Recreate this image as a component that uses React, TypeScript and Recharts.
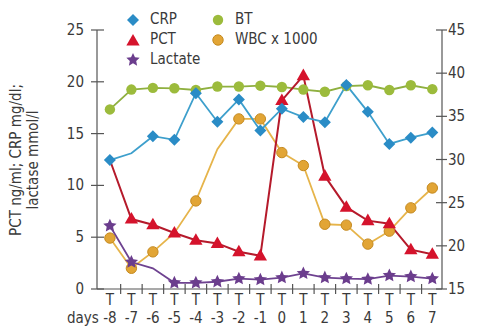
import React from 'react';
import { ComposedChart, Line, XAxis, YAxis } from 'recharts';

const days = [-8, -7, -6, -5, -4, -3, -2, -1, 0, 1, 2, 3, 4, 5, 6, 7];
const crp = [12.45, 13.1, 14.75, 14.4, 18.9, 16.15, 18.3, 15.3, 17.4, 16.6, 16.1, 19.7, 17.1, 14.0, 14.6, 15.1];
const pct = [12.45, 6.75, 6.2, 5.4, 4.7, 4.4, 3.6, 3.2, 18.2, 20.6, 10.9, 7.9, 6.6, 6.3, 3.8, 3.35];
const lactate = [6.1, 2.6, 2.0, 0.6, 0.6, 0.7, 1.0, 0.9, 1.1, 1.5, 1.1, 1.0, 0.95, 1.3, 1.2, 1.0];
const bt = [35.8, 38.1, 38.3, 38.25, 38.05, 38.45, 38.45, 38.55, 38.4, 38.1, 37.85, 38.5, 38.6, 38.05, 38.6, 38.15];
const wbc = [20.9, 17.4, 19.3, 21.5, 25.2, 31.2, 34.7, 34.7, 30.8, 29.3, 22.5, 22.4, 20.2, 21.7, 24.4, 26.7];
const leftTicks = [0, 5, 10, 15, 20, 25];
const rightTicks = [15, 20, 25, 30, 35, 40, 45];
// days drawn without a marker in the source
const crpNoMark = [-7];
const pctNoMark = [-8];
const lactateNoMark = [-6];
const wbcNoMark = [-5, -3];

const data = days.map((d, i) => ({
  day: d,
  crp: crp[i],
  pct: pct[i],
  lactate: lactate[i],
  bt: bt[i],
  wbc: wbc[i],
}));

const boundaryTicks = [...days.slice(0, -1).map((d) => d + 0.5), ...days];

const FONT = "'DejaVu Sans', sans-serif";
const STRETCH = 'condensed';
const FS = 15;
const TEXT = '#3a3a3a';
const AXIS = '#555';

const C = {
  crp: '#2a8cc6', crpLine: '#3d9fcc',
  pct: '#d5132c', pctLine: '#b51a2b',
  lac: '#6b3d8d', lacLine: '#6e4290',
  bt: '#9cbb3c', btLine: '#8fb040',
  wbc: '#e2a535', wbcLine: '#e6b44a',
};

const diamond = (cx: number, cy: number, fill: string, r = 6) => (
  <path d={`M${cx},${cy - r}L${cx + r},${cy}L${cx},${cy + r}L${cx - r},${cy}Z`} fill={fill} />
);
const triangle = (cx: number, cy: number, fill: string, r = 7) => (
  <path d={`M${cx},${cy - r}L${cx + r * 0.95},${cy + r * 0.65}L${cx - r * 0.95},${cy + r * 0.65}Z`} fill={fill} />
);
const star = (cx: number, cy: number, fill: string, R = 7) => {
  const pts: string[] = [];
  for (let k = 0; k < 10; k++) {
    const rr = k % 2 === 0 ? R : R * 0.48;
    const a = -Math.PI / 2 + (k * Math.PI) / 5;
    pts.push(`${cx + rr * Math.cos(a)},${cy + rr * Math.sin(a)}`);
  }
  return <polygon points={pts.join(' ')} fill={fill} />;
};
const circle = (cx: number, cy: number, fill: string, stroke?: string) => (
  <circle cx={cx} cy={cy} r={5.2} fill={fill} stroke={stroke || 'none'} strokeWidth={1} />
);

const makeDot = (shape: (x: number, y: number) => React.ReactElement, skip: number[]) => (props: any) => {
  const { cx, cy, payload, index } = props;
  if (skip.includes(payload.day) || cx == null || cy == null) return <g key={index} />;
  return <g key={index}>{shape(cx, cy)}</g>;
};

const txt = { fontFamily: FONT, fontSize: FS, fontStretch: STRETCH, fill: TEXT } as any;

const XTick = (props: any) => {
  const { x, y, payload } = props;
  const v = payload.value;
  if (!Number.isInteger(v)) {
    return <line x1={x} x2={x} y1={y - 5} y2={y + 5} stroke={AXIS} strokeWidth={1.2} />;
  }
  return (
    <g>
      <text x={x} y={y + 16} textAnchor="middle" style={txt}>T</text>
      <text x={x} y={y + 34} textAnchor="middle" style={txt}>{v}</text>
      {v === days[0] && (
        <text x={x - 11} y={y + 34} textAnchor="end" style={txt}>days</text>
      )}
    </g>
  );
};

const LeftTick = (props: any) => {
  const { x, y, payload } = props;
  return (
    <g>
      <line x1={x - 6} x2={x + 7} y1={y} y2={y} stroke={AXIS} strokeWidth={1.2} />
      <text x={x - 13} y={y + 5} textAnchor="end" style={txt}>
        {payload.value}
      </text>
    </g>
  );
};

const RightTick = (props: any) => {
  const { x, y, payload } = props;
  return (
    <g>
      <line x1={x - 6} x2={x + 5} y1={y} y2={y} stroke={AXIS} strokeWidth={1.2} />
      <text x={x + 6} y={y + 5} textAnchor="start" style={txt}>
        {payload.value}
      </text>
    </g>
  );
};

const legendItems = [
  { label: 'CRP', icon: (x: number, y: number) => diamond(x, y, C.crp) },
  { label: 'BT', icon: (x: number, y: number) => circle(x, y, C.bt) },
  { label: 'PCT', icon: (x: number, y: number) => triangle(x, y + 1, C.pct) },
  { label: 'WBC x 1000', icon: (x: number, y: number) => circle(x, y, C.wbc, '#c58a20') },
  { label: 'Lactate', icon: (x: number, y: number) => star(x, y, C.lac) },
];

const LegendBox = () => (
  <div
    style={{
      position: 'absolute',
      left: 125,
      top: 10,
      display: 'grid',
      gridTemplateColumns: '85px 140px',
      rowGap: 1,
      fontFamily: FONT,
      fontStretch: STRETCH,
      fontSize: FS,
      color: TEXT,
      lineHeight: '19px',
    }}
  >
    {legendItems.map((it) => (
      <div key={it.label} style={{ display: 'flex', alignItems: 'center' }}>
        <svg width={16} height={16} style={{ marginRight: 9 }}>
          {it.icon(8, 8)}
        </svg>
        <span>{it.label}</span>
      </div>
    ))}
  </div>
);

export default function App() {
  return (
    <div style={{ position: 'absolute', left: 0, top: 0, width: 480, height: 330, background: '#fff' }}>
      <ComposedChart
        width={480}
        height={330}
        data={data}
        margin={{ top: 30, right: 0, bottom: 0, left: 37 }}
      >
        <XAxis
          dataKey="day"
          type="number"
          domain={[-8.6, 7.45]}
          ticks={boundaryTicks}
          interval={0}
          tickSize={0}
          tickMargin={0}
          tickLine={false}
          tick={<XTick />}
          height={41}
          stroke={AXIS}
          strokeWidth={1.2}
          allowDataOverflow
        />
        <YAxis
          yAxisId="left"
          domain={[0, 25]}
          ticks={leftTicks}
          width={60}
          tickSize={0}
          tickMargin={0}
          tickLine={false}
          tick={<LeftTick />}
          stroke={AXIS}
          strokeWidth={1.2}
        />
        <YAxis
          yAxisId="right"
          orientation="right"
          domain={[15, 45]}
          ticks={rightTicks}
          width={38}
          tickSize={0}
          tickMargin={0}
          tickLine={false}
          tick={<RightTick />}
          stroke={AXIS}
          strokeWidth={1.2}
        />
        <Line yAxisId="right" dataKey="bt" stroke={C.btLine} strokeWidth={1.8}
          dot={makeDot((x, y) => circle(x, y, C.bt), [])} isAnimationActive={false} />
        <Line yAxisId="right" dataKey="wbc" stroke={C.wbcLine} strokeWidth={1.8}
          dot={makeDot((x, y) => circle(x, y, C.wbc, '#c58a20'), wbcNoMark)} isAnimationActive={false} />
        <Line yAxisId="left" dataKey="pct" stroke={C.pctLine} strokeWidth={2}
          dot={makeDot((x, y) => triangle(x, y, C.pct), pctNoMark)} isAnimationActive={false} />
        <Line yAxisId="left" dataKey="crp" stroke={C.crpLine} strokeWidth={1.8}
          dot={makeDot((x, y) => diamond(x, y, C.crp), crpNoMark)} isAnimationActive={false} />
        <Line yAxisId="left" dataKey="lactate" stroke={C.lacLine} strokeWidth={1.8}
          dot={makeDot((x, y) => star(x, y, C.lac), lactateNoMark)} isAnimationActive={false} />
        <text transform="translate(29,160) rotate(-90)" textAnchor="middle" style={txt}>
          <tspan x={0} dy={-8}>PCT ng/ml; CRP mg/dl;</tspan>
          <tspan x={0} dy={17}>lactase mmol/l</tspan>
        </text>
      </ComposedChart>
      <LegendBox />
    </div>
  );
}
